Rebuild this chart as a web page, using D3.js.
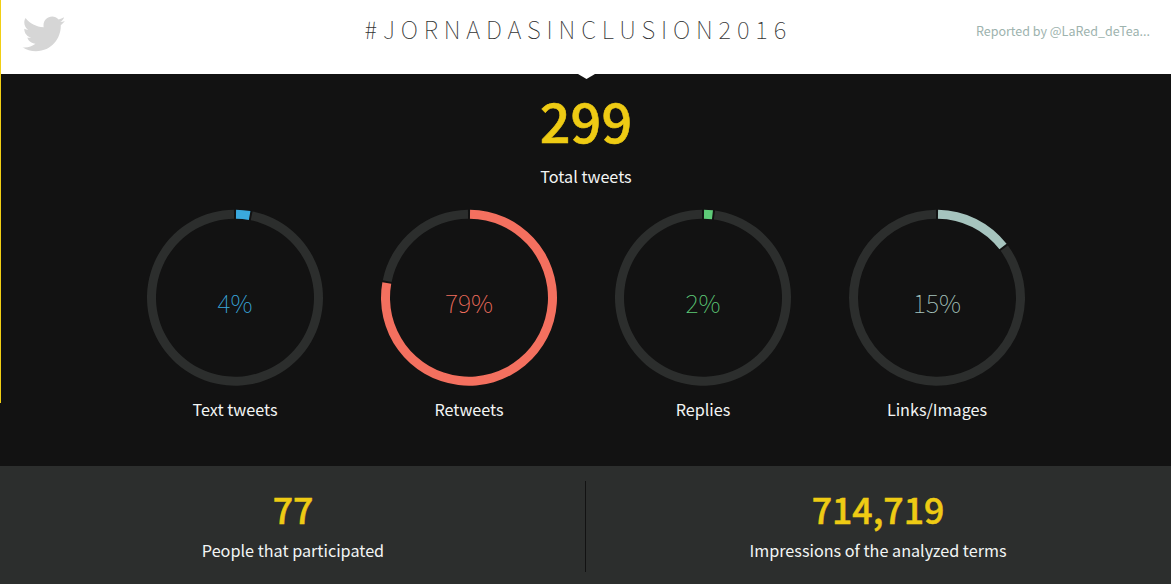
<!DOCTYPE html>
<html><head><meta charset="utf-8">
<script src="https://cdn.jsdelivr.net/npm/d3@7"></script>
<style>html,body{margin:0;padding:0;background:#121212;overflow:hidden}svg{display:block}</style>
</head><body><svg id="c" width="1171" height="584"></svg>
<script>
const categories=["Text tweets","Retweets","Replies","Links/Images"];
const percents=[4,79,2,15];
const arcShares=[3,78,2,14.7];
const ringColors=["#3aa9de","#f4705f","#5ecb78","#a6c4be"];
const textColors=["#3aa9de","#f4705f","#5ecb78","#a6c4be"];
const title="#JORNADASINCLUSION2016";
const reporter="Reported by @LaRed_deTea...";
const totalValue=299, totalLabel="Total tweets";
const bottomValues=["77","714,719"];
const bottomLabels=["People that participated","Impressions of the analyzed terms"];
const F='"Noto Sans CJK SC","Noto Sans",sans-serif';
const svg=d3.select("#c");
const W=1171,H=584;
const txt=(x,y,s,size,fill,weight=400,anchor="middle")=>svg.append("text").attr("x",x).attr("y",y).attr("text-anchor",anchor)
  .attr("font-family",F).attr("font-size",size).attr("font-weight",weight).attr("fill",fill).text(s);
svg.append("rect").attr("width",W).attr("height",H).attr("fill","#121212");
svg.append("rect").attr("width",W).attr("height",74).attr("fill","#fff");
svg.append("rect").attr("width",1).attr("height",403).attr("fill","#f1cf14");
svg.append("path").attr("d","M578 74L595 74L586.5 79Z").attr("fill","#fff");
svg.append("path").attr("fill","#d6d6d6").attr("transform","translate(22.5,12.5) scale(1.78)")
 .attr("d","M24 4.6c-.9.4-1.8.7-2.8.8 1-.6 1.8-1.6 2.2-2.7-1 .6-2 1-3.1 1.2C19.3 2.9 18 2.3 16.7 2.3c-2.7 0-4.9 2.2-4.9 4.9 0 .4 0 .8.1 1.1C7.7 8.1 4.1 6.1 1.7 3.1c-.4.7-.7 1.6-.7 2.5 0 1.7.9 3.2 2.2 4.1-.8 0-1.6-.2-2.2-.6v.1c0 2.4 1.7 4.4 3.9 4.8-.4.1-.8.2-1.3.2-.3 0-.6 0-.9-.1.6 2 2.4 3.4 4.6 3.4-1.7 1.3-3.8 2.1-6.1 2.1-.4 0-.8 0-1.2-.1 2.2 1.4 4.8 2.2 7.5 2.2 9.1 0 14-7.5 14-14v-.6c1-.7 1.8-1.6 2.4-2.5z");
svg.append("text").attr("x",578.3).attr("y",39).attr("text-anchor","middle").attr("font-family",F).attr("font-size",24).attr("font-weight",100)
  .attr("letter-spacing",5.85).attr("fill","#333").text(title);
txt(1150,36,reporter,12.5,"#9db3ae",400,"end");
txt(586,143,totalValue,54,"#eecb14",500).attr("stroke","#eecb14").attr("stroke-width",0.6);
txt(586,182.5,totalLabel,16.2,"#f2f5f4");
const xScale=d3.scalePoint().domain(categories).range([235,937]);
const angle=d3.scaleLinear().domain([0,100]).range([0,2*Math.PI]);
const arc=d3.arc().innerRadius(79).outerRadius(88);
const gap=0.012;
categories.forEach((c,i)=>{
  const g=svg.append("g").attr("transform",`translate(${xScale(c)},297.7)`);
  const a=angle(arcShares[i]);
  g.append("path").attr("d",arc({startAngle:a+gap,endAngle:2*Math.PI-gap})).attr("fill","#2c2e2d");
  g.append("path").attr("d",arc({startAngle:gap,endAngle:a-gap})).attr("fill",ringColors[i]);
  txt(xScale(c),313,percents[i]+"%",25,textColors[i],100);
  txt(xScale(c),415.5,c,16.2,"#f2f5f4");
});
svg.append("rect").attr("y",466).attr("width",W).attr("height",118).attr("fill","#2c2e2d");
svg.append("rect").attr("x",585).attr("y",481).attr("width",1).attr("height",91).attr("fill","#121212");
const bx=[293,878];
bottomValues.forEach((v,i)=>{
  txt(bx[i],524,v,35.7,"#eecb14",500).attr("stroke","#eecb14").attr("stroke-width",0.5);
  txt(bx[i],556.5,bottomLabels[i],16.2,"#f2f5f4");
});
</script></body></html>
